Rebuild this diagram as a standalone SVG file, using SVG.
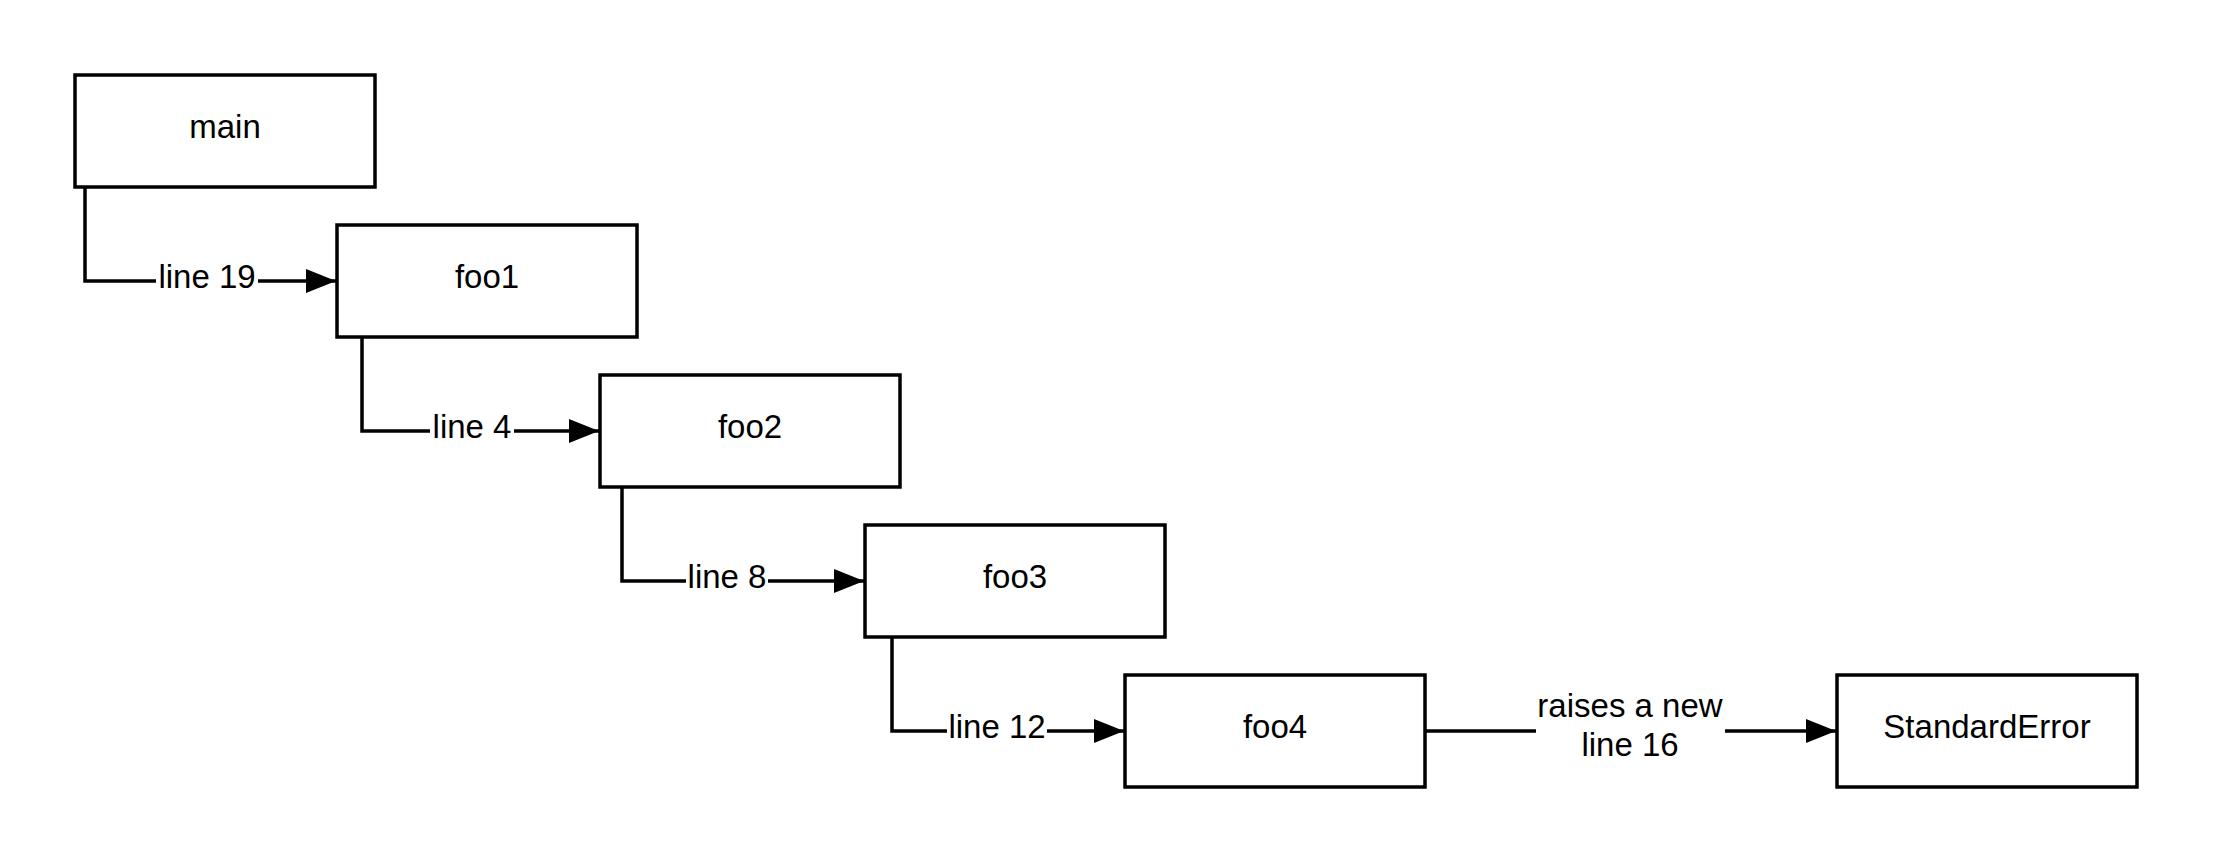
<svg xmlns="http://www.w3.org/2000/svg" width="2213" height="863" viewBox="0 0 2213 863">
<style>
.box{fill:#fff;stroke:#000;stroke-width:3.5}
.lbl{font-family:"Liberation Sans",Arial,sans-serif;font-size:33px;fill:#000;text-anchor:middle}
.edge{fill:none;stroke:#000;stroke-width:3.5}
.bg{fill:#fff;stroke:none}
</style>
<defs>
<marker id="arr" markerUnits="userSpaceOnUse" markerWidth="32" markerHeight="26" refX="30" refY="12" orient="auto">
<polygon points="0,0 30,12 0,24" fill="#000"/>
</marker>
</defs>
<rect width="2213" height="863" fill="#fff"/>
<g id="connectors">
<path class="edge" d="M85,187 V281 H336" marker-end="url(#arr)"/>
<rect class="bg" x="156" y="258" width="102" height="40"/>
<text class="lbl" x="207" y="288">line 19</text>
<path class="edge" d="M362,337 V431 H599" marker-end="url(#arr)"/>
<rect class="bg" x="430" y="408" width="84" height="40"/>
<text class="lbl" x="472" y="438">line 4</text>
<path class="edge" d="M622,487 V581 H864" marker-end="url(#arr)"/>
<rect class="bg" x="686" y="558" width="82" height="40"/>
<text class="lbl" x="727" y="588">line 8</text>
<path class="edge" d="M892,637 V731 H1124" marker-end="url(#arr)"/>
<rect class="bg" x="947" y="708" width="100" height="40"/>
<text class="lbl" x="997" y="738">line 12</text>
<path class="edge" d="M1425,731 H1836" marker-end="url(#arr)"/>
<rect class="bg" x="1536" y="688" width="189" height="78"/>
<text class="lbl" x="1630" y="717">raises a new</text>
<text class="lbl" x="1630" y="756">line 16</text>
</g>
<g id="main"><rect class="box" x="75" y="75" width="300" height="112"/><text class="lbl" x="225" y="138">main</text></g>
<g id="foo1"><rect class="box" x="337" y="225" width="300" height="112"/><text class="lbl" x="487" y="288">foo1</text></g>
<g id="foo2"><rect class="box" x="600" y="375" width="300" height="112"/><text class="lbl" x="750" y="438">foo2</text></g>
<g id="foo3"><rect class="box" x="865" y="525" width="300" height="112"/><text class="lbl" x="1015" y="588">foo3</text></g>
<g id="foo4"><rect class="box" x="1125" y="675" width="300" height="112"/><text class="lbl" x="1275" y="738">foo4</text></g>
<g id="StandardError"><rect class="box" x="1837" y="675" width="300" height="112"/><text class="lbl" x="1987" y="738">StandardError</text></g>
</svg>
